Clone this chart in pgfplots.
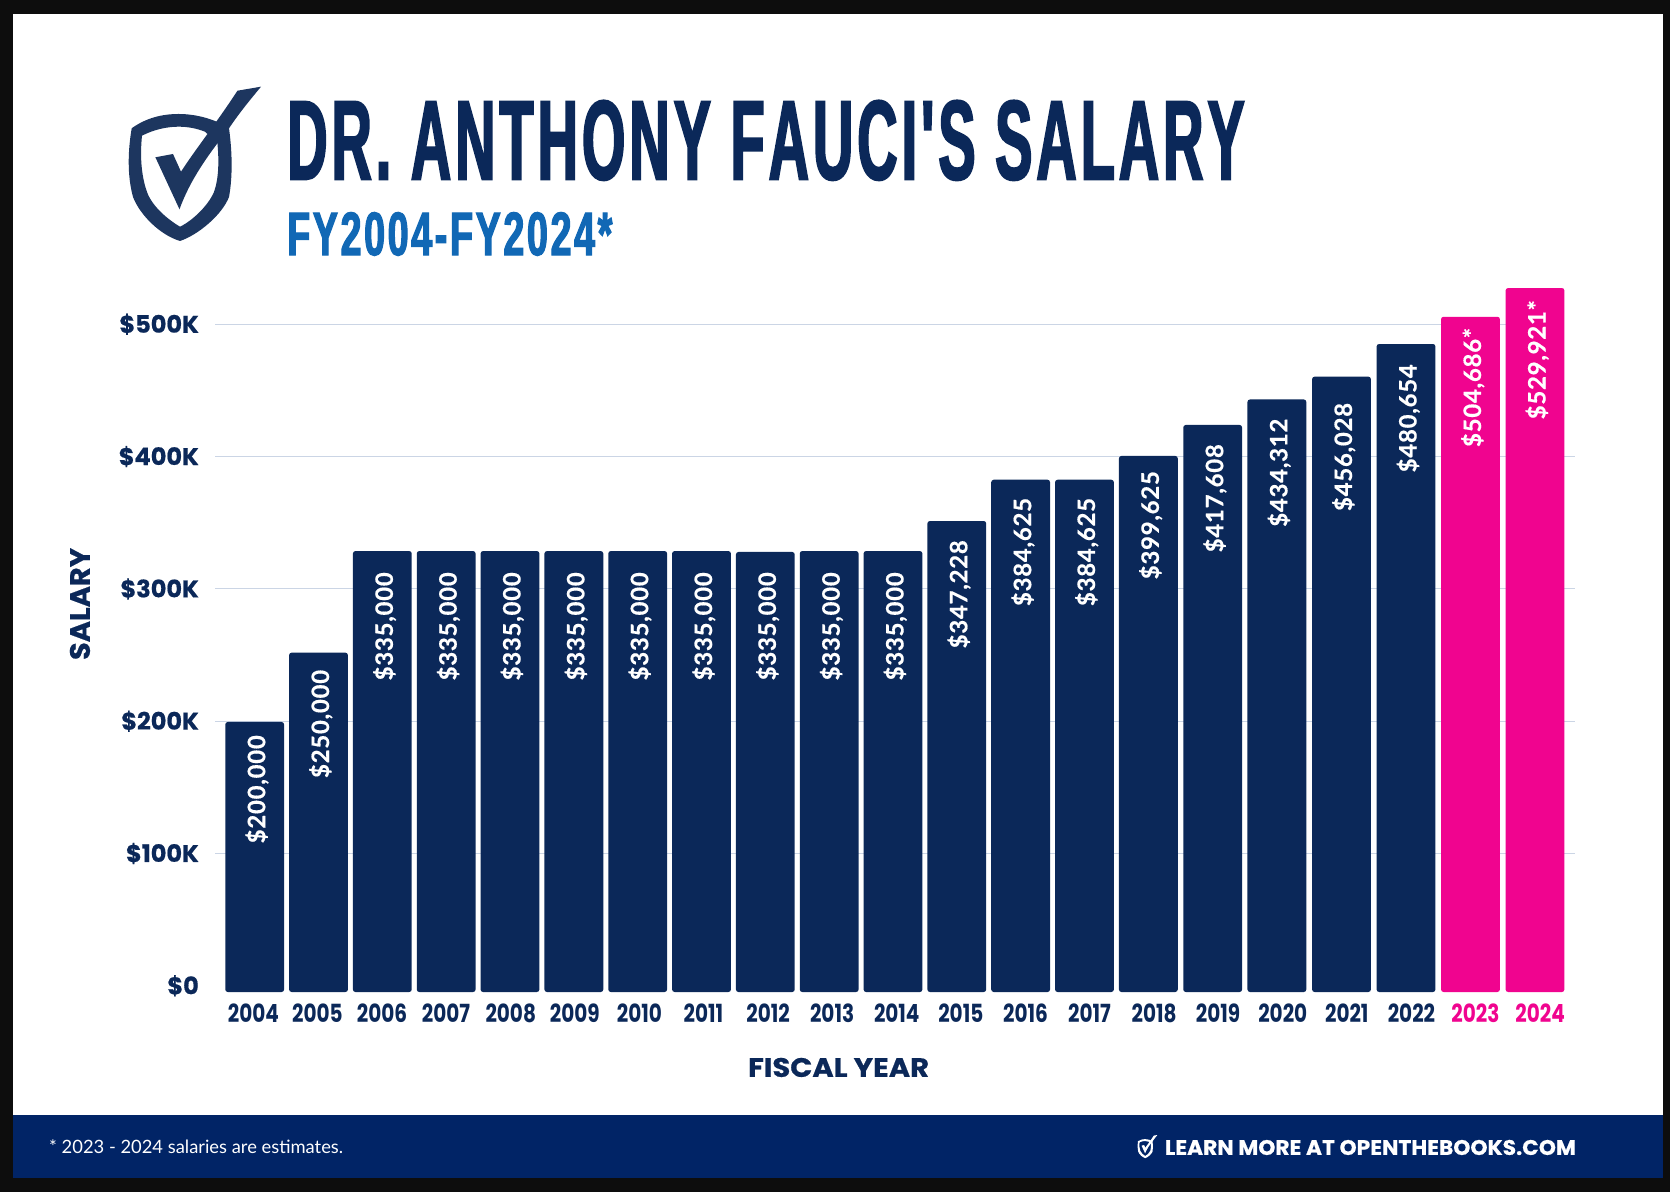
\documentclass[border=0pt]{standalone}
\usepackage{fontspec}
\usepackage{pgfplots}
\usepackage{pgfplotstable}
\pgfplotsset{compat=1.18}
\newfontfamily\ttl[Kerning=Off,BoldFeatures={FakeStretch=0.5,FakeBold=1.6,LetterSpace=3.5}]{Liberation Sans}
\newfontfamily\pop[BoldFeatures={FakeBold=0.6}]{Poppins}
\newfontfamily\yr[BoldFeatures={FakeStretch=0.8}]{Poppins}
\newfontfamily\lab[BoldFeatures={LetterSpace=3,FakeBold=0.5}]{Lato}
\definecolor{navy}{HTML}{0B2859}
\definecolor{hot}{HTML}{F0048F}
\definecolor{sub}{HTML}{1168B5}
\definecolor{foot}{HTML}{012466}
\definecolor{blk}{HTML}{0D0D0D}
\definecolor{shield}{HTML}{1D365F}
\definecolor{gridc}{HTML}{CBD5E5}
\pgfplotstableread{
x y off label
0      199.4 13 \$200,000
0.997  251.8 17 \$250,000
1.994  328.6 21 \$335,000
2.991  328.6 21 \$335,000
3.988  328.6 21 \$335,000
4.986  328.6 21 \$335,000
5.983  328.6 21 \$335,000
6.980  328.6 21 \$335,000
7.977  327.9 20 \$335,000
8.974  328.6 21 \$335,000
9.971  328.6 21 \$335,000
10.968 351.3 19 \$347,228
11.965 382.5 18 \$384,625
12.962 382.5 18 \$384,625
13.960 400.5 15 \$399,625
14.965 423.9 19 \$417,608
15.968 443.2 19 \$434,312
16.977 460.4 26 \$456,028
17.985 485.1 20 \$480,654
}\navytable
\pgfplotstableread{
x y off label
18.992 505.7 11 \$504,686*
20     527.4 12 \$529,921*
}\pinktable
\newcommand\logo[4]{% x-shift, y-shift, scale, colour
  \begin{scope}[shift={(#1,#2)},scale=#3]
    \fill[#4,even odd rule]
      (131.7,128.3) .. controls (146,118) and (162,114) .. (178.6,114)
      .. controls (196,114) and (215,119) .. (229,128.3)
      .. controls (232,150) and (233,175) .. (229,197)
      .. controls (222,215) and (198,235) .. (180,241)
      .. controls (160,235) and (140,215) .. (133,197)
      .. controls (127,175) and (128,150) .. (131.7,128.3) -- cycle
      (142,135.7) .. controls (153,130) and (166,126.7) .. (178.6,126.7)
      .. controls (188,126.7) and (197,128.5) .. (205,131.7)
      -- (217.4,143) .. controls (219,160) and (219,178) .. (214,192)
      .. controls (208,206) and (192,221) .. (180,226.7)
      .. controls (167,219) and (152,206) .. (147,192)
      .. controls (141,175) and (140,155) .. (142,135.7) -- cycle;
    \fill[#4] (261,86.7) -- (237.5,90.7) .. controls (215,125) and (195,150) .. (181,171.7)
      -- (173,154) -- (155.4,157.3) -- (179.5,209.3)
      .. controls (190,180) and (208,155) .. (229,128.3)
      .. controls (240,112) and (250,100) .. (261,86.7) -- cycle;
  \end{scope}}
\begin{document}
\begin{tikzpicture}[x=1pt,y=1pt]
\useasboundingbox (0,0) rectangle (1670,1192);
\fill[blk] (0,0) rectangle (1670,1192);
\begin{scope}[shift={(0,1192)},y=-1pt]
  \fill[white] (13,14) rectangle (1663,1115);
  \fill[foot] (13,1115) rectangle (1663,1178);
  \logo{0}{0}{1}{shield}
  \logo{1118.2}{1122}{0.15}{white}
  \node[anchor=south west,inner sep=0pt,text=navy] at (287,180.7)
    {\resizebox{957pt}{79pt}{\ttl\bfseries DR. ANTHONY FAUCI'S SALARY}};
  \node[anchor=south west,inner sep=0pt,text=sub] at (287,256)
    {\resizebox{325pt}{43pt}{\ttl\bfseries FY2004-FY2024*}};
  \node[anchor=west,inner sep=0pt,text=white] at (49,1147)
    {\resizebox{294pt}{!}{\lab\fontsize{20}{24}\selectfont * 2023 - 2024 salaries are estimates.}};
  \node[anchor=west,inner sep=0pt,text=white] at (1164.7,1147.5)
    {\resizebox{411pt}{15pt}{\pop\bfseries LEARN MORE AT OPENTHEBOOKS.COM}};
\end{scope}
\begin{axis}[
  at={(215pt,200pt)},anchor=south west,scale only axis,
  width=1360pt,height=712pt,
  xmin=-0.62,xmax=20.625,
  y coord trafo/.code={\pgfmathparse{#1+8}},
  ymin=-4.686,ymax=533.484,
  ybar,bar width=58.8pt,bar shift=0pt,
  axis line style={draw=none},
  major tick length=0pt,
  ymajorgrids,grid style={gridc,line width=1pt},
  ytick={100,200,300,400},
  yticklabels={\$100K,\$200K,\$300K,\$400K},
  extra y ticks={0,500},
  extra y tick labels={\$0,\$500K},
  extra y tick style={grid=none},
  xtick={-0.02,0.98,1.99,2.99,4.00,5.00,6.01,7.01,8.02,9.02,10.03,11.03,12.04,13.04,14.05,15.05,16.06,17.06,18.07,19.07,20.08},
  xticklabels={2004,2005,2006,2007,2008,2009,2010,2011,2012,2013,2014,2015,2016,2017,2018,2019,2020,2021,2022,\textcolor{hot}{2023},\textcolor{hot}{2024}},
  yticklabel style={anchor=east,inner sep=0pt,xshift=-16pt,text=navy,font=\pop\bfseries\fontsize{24}{26}\selectfont},
  xticklabel style={anchor=north,inner sep=0pt,yshift=-12pt,text=navy,font=\yr\bfseries\fontsize{25}{27}\selectfont},
  xlabel={\resizebox{181pt}{19pt}{\pop\bfseries FISCAL YEAR}},
  ylabel={\resizebox{112pt}{20pt}{\pop\bfseries SALARY}},
  xlabel style={at={(axis description cs:0.4585,-0.106)},anchor=center,inner sep=0pt,text=navy},
  ylabel style={at={(axis description cs:-0.0993,0.545)},anchor=center,inner sep=0pt,text=navy,rotate=0},
  nodes near coords,
  point meta=explicit symbolic,
  visualization depends on={\thisrow{off}\as\off},
  every node near coord/.append style={rotate=90,anchor=east,inner sep=0pt,xshift=-\off pt,yshift=-2pt,text=white,
    font=\lab\bfseries\fontsize{24}{26}\selectfont,text height=17pt,text depth=0pt},
]
\draw[gridc,line width=1pt] (axis cs:-0.62,500) -- (axis cs:19.6,500);
\addplot[fill=navy,draw=none,rounded corners=2.5pt] table[x=x,y=y,meta=label]{\navytable};
\addplot[fill=hot,draw=none,rounded corners=2.5pt] table[x=x,y=y,meta=label]{\pinktable};
\end{axis}
\end{tikzpicture}
\end{document}
